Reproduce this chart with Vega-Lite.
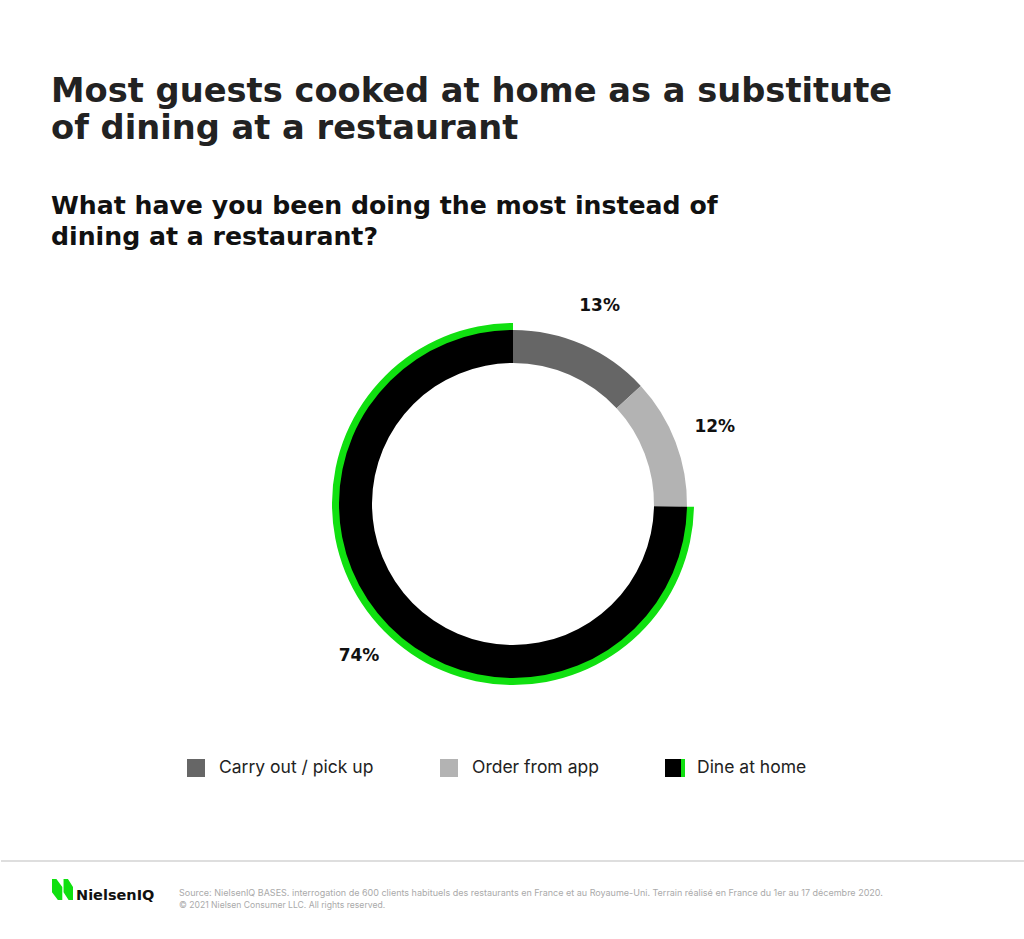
{
  "$schema": "https://vega.github.io/schema/vega-lite/v6.json",
  "background": "white",
  "padding": {"top": 75, "left": 0, "right": 0, "bottom": 0},
  "bounds": "flush",
  "spacing": 104,
  "config": {"view": {"stroke": null}, "font": "Inter"},
  "datasets": {
    "shares": [
      {"category": "Carry out / pick up", "share": 0.13, "rank": 1},
      {"category": "Order from app", "share": 0.12, "rank": 2},
      {"category": "Dine at home", "share": 0.74, "rank": 3}
    ],
    "footer": [
      {"part": "brand", "text": "NielsenIQ"},
      {"part": "source", "text": "Source: NielsenIQ BASES. interrogation de 600 clients habituels des restaurants en France et au Royaume-Uni. Terrain réalisé en France du 1er au 17 décembre 2020."},
      {"part": "copyright", "text": "© 2021 Nielsen Consumer LLC. All rights reserved."}
    ]
  },
  "vconcat": [
    {
      "width": 1024,
      "height": 506,
      "title": {
        "text": ["Most guests cooked at home as a substitute", "of dining at a restaurant"],
        "subtitle": ["What have you been doing the most instead of", "dining at a restaurant?"],
        "anchor": "start",
        "dx": 50,
        "font": "DejaVu Sans",
        "fontSize": 33.7,
        "fontWeight": "bold",
        "lineHeight": 37,
        "color": "#222222",
        "subtitleFont": "DejaVu Sans",
        "subtitleFontSize": 25.2,
        "subtitleFontWeight": "bold",
        "subtitleLineHeight": 31,
        "subtitleColor": "#111111",
        "subtitlePadding": 48,
        "offset": 1
      },
      "data": {"name": "shares"},
      "encoding": {
        "theta": {"field": "share", "type": "quantitative", "stack": true},
        "order": {"field": "rank", "type": "quantitative"}
      },
      "layer": [
        {
          "mark": {"type": "arc", "outerRadius": 181, "innerRadius": 168},
          "encoding": {
            "detail": {"field": "category", "type": "nominal"},
            "fill": {"condition": {"test": "datum.category === 'Dine at home'", "value": "#10e010"}, "value": "transparent"}
          }
        },
        {
          "mark": {"type": "arc", "outerRadius": 174, "innerRadius": 141},
          "encoding": {
            "color": {
              "field": "category",
              "type": "nominal",
              "scale": {"domain": ["Carry out / pick up", "Order from app", "Dine at home"], "range": ["#666666", "#b3b3b3", "#000000"]},
              "legend": {
                "orient": "none",
                "legendX": 184,
                "legendY": 506,
                "direction": "horizontal",
                "title": null,
                "symbolType": "square",
                "symbolSize": 324,
                "symbolStrokeWidth": 0,
                "symbolOpacity": 1,
                "labelFont": "Inter",
                "labelFontSize": 17.5,
                "labelColor": "#222222",
                "labelOffset": 12,
                "labelLimit": 300,
                "columnPadding": 58,
                "encode": {
                  "symbols": {
                    "update": {
                      "stroke": {"signal": "datum.label === 'Dine at home' ? '#10e010' : 'transparent'"},
                      "strokeWidth": {"value": 4},
                      "strokeDash": {"value": [0, 18, 18, 60]}
                    }
                  }
                }
              }
            }
          }
        },
        {
          "mark": {"type": "text", "radius": 216, "fontSize": 17, "fontWeight": "bold", "color": "#111111", "font": "DejaVu Sans"},
          "encoding": {
            "detail": {"field": "category", "type": "nominal"},
            "text": {"field": "share", "type": "quantitative", "format": ".0%"}
          }
        }
      ]
    },
    {
      "width": 1024,
      "height": 77,
      "data": {"name": "footer"},
      "layer": [
        {
          "transform": [{"filter": "datum.part === 'brand'"}],
          "mark": {"type": "rule", "stroke": "#d3d3d3", "strokeWidth": 1.5},
          "encoding": {"y": {"value": 0}}
        },
        {
          "transform": [{"filter": "datum.part === 'brand'"}],
          "mark": {
            "type": "point",
            "filled": true,
            "color": "#10e010",
            "opacity": 1,
            "strokeWidth": 0,
            "shape": "M-1,-1 L-0.58,-1 L-0.02,-0.25 L-0.02,1 L-0.44,1 L-1,0.25 Z M0.1,-1 L0.52,-1 L1,-0.25 L1,1 L0.58,1 L0.1,0.25 Z",
            "size": 441
          },
          "encoding": {"x": {"value": 61.5}, "y": {"value": 28.5}}
        },
        {
          "transform": [{"filter": "datum.part === 'brand'"}],
          "mark": {"type": "text", "font": "DejaVu Sans", "fontSize": 14.5, "fontWeight": "bold", "color": "#111111", "align": "left", "baseline": "alphabetic"},
          "encoding": {"x": {"value": 75}, "y": {"value": 39}, "text": {"field": "text"}}
        },
        {
          "transform": [{"filter": "datum.part === 'source'"}],
          "mark": {"type": "text", "font": "Inter", "fontSize": 9, "color": "#aaaaaa", "align": "left", "baseline": "alphabetic"},
          "encoding": {"x": {"value": 178}, "y": {"value": 35}, "text": {"field": "text"}}
        },
        {
          "transform": [{"filter": "datum.part === 'copyright'"}],
          "mark": {"type": "text", "font": "Inter", "fontSize": 8.6, "color": "#aaaaaa", "align": "left", "baseline": "alphabetic"},
          "encoding": {"x": {"value": 178}, "y": {"value": 47}, "text": {"field": "text"}}
        }
      ]
    }
  ]
}
